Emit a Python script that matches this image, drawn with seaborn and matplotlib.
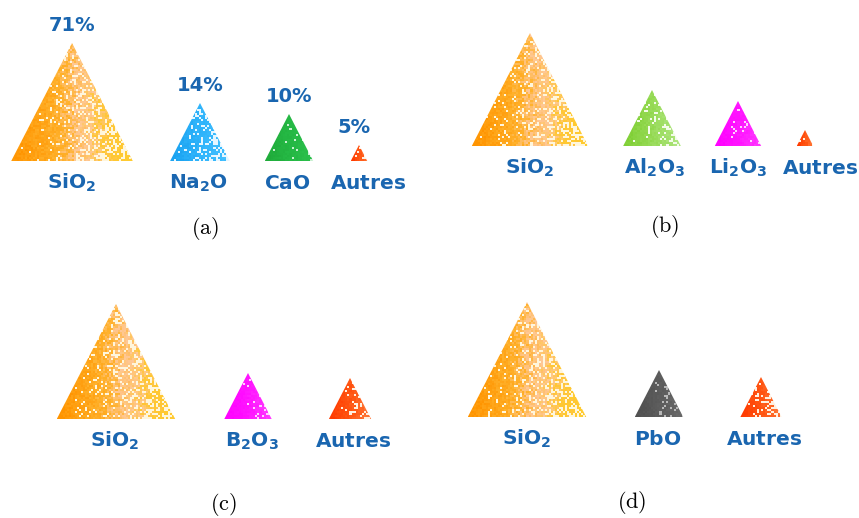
import numpy as np
import matplotlib
matplotlib.use("Agg")
import matplotlib.pyplot as plt
from matplotlib.patches import Polygon
from matplotlib.colors import to_rgb
import seaborn as sns

# ---------------- data ----------------
cat_a = [r"SiO_2", r"Na_2O", r"CaO", r"Autres"]
pct_a = [71, 14, 10, 5]
cat_b = [r"SiO_2", r"Al_2O_3", r"Li_2O_3", r"Autres"]
cat_c = [r"SiO_2", r"B_2O_3", r"Autres"]
cat_d = [r"SiO_2", r"PbO", r"Autres"]
captions = ["(a)", "(b)", "(c)", "(d)"]

# ---------------- layout (pixel units) ----------------
# triangle heights (relative size)
size_a = [118, 58, 47, 16]
size_b = [113, 56, 45, 16]
size_c = [115, 46, 41]
size_d = [115, 47, 40]
# triangle centres and label centres
tx_a = [72, 200, 289, 359];  lx_a = [72, 199, 287, 368]
tx_b = [530, 652, 738, 805]; lx_b = [530, 655, 738, 820]
tx_c = [116, 248, 350];      lx_c = [115, 252, 353]
tx_d = [527, 659, 761];      lx_d = [527, 658, 764]
base = {"a": 161, "b": 146, "c": 419, "d": 417}
cap_pos = {"a": (205, 228), "b": (665, 227), "c": (223, 505), "d": (632, 503)}

# colour ramps (left -> right) and speckle colours
ramps = {
    "SiO_2":   (["#ff9400", "#ffa214", "#ffb22c", "#ffc898", "#ffc634", "#ffcc30"], "#fff6dc", 0.5),
    "Na_2O":   (["#1aa2f0", "#2fb4fb", "#44c0ff"], "#e6f6ff", 0.55),
    "CaO":     (["#1faa3a", "#25b844", "#2cc04c"], "#c8f0d0", 0.18),
    "Autres":  (["#ff3a00", "#ff5512", "#ff7a3a"], "#fff0e0", 0.45),
    "Al_2O_3": (["#7fcf34", "#96da55", "#b0e681"], "#f2fbe8", 0.35),
    "Li_2O_3": (["#ff00ff", "#ff14ff", "#ff3cff"], "#ffd0ff", 0.18),
    "B_2O_3":  (["#ff00ff", "#ff14ff", "#ff3cff"], "#ffd0ff", 0.18),
    "PbO":     (["#505050", "#5c5c5c", "#6a6a6a"], "#b8b8b8", 0.22),
}

TEXT_BLUE = "#1a66b0"

sns.set_theme(style="white")
plt.rcParams["font.family"] = ["DejaVu Sans"]

fig = plt.figure(figsize=(8.59, 5.18), dpi=100)
ax = fig.add_axes([0, 0, 1, 1])
ax.set_xlim(0, 859)
ax.set_ylim(518, 0)
ax.axis("off")


def hash_noise(shape, seed):
    i, j = np.indices(shape)
    v = np.sin(i * 12.9898 + j * 78.233 + seed * 37.719) * 43758.5453
    return v - np.floor(v)


def textured_triangle(cx, b, h, key, seed):
    w = h * 1.03
    cols, speck, amount = ramps[key]
    cols = np.array([to_rgb(c) for c in cols])
    ny = max(int(h / 2.0), 4)
    nx = max(int(w / 2.0), 4)
    n1 = hash_noise((ny, nx), seed)
    n2 = hash_noise((ny, nx), seed + 11)
    t = np.linspace(0, 1, nx)[None, :].repeat(ny, axis=0)
    tt = np.clip(t + (n1 - 0.5) * 0.22, 0, 1) * (len(cols) - 1)
    k = np.floor(tt).astype(int)
    k = np.clip(k, 0, len(cols) - 2)
    f = (tt - k)[..., None]
    img = cols[k] * (1 - f) + cols[k + 1] * f
    p = amount * t ** 1.5
    mask = n2 < p
    img[mask] = to_rgb(speck)
    tri = Polygon([(cx - w / 2, b), (cx, b - h), (cx + w / 2, b)],
                  closed=True, facecolor="none", edgecolor="none")
    ax.add_patch(tri)
    im = ax.imshow(img, extent=[cx - w / 2, cx + w / 2, b, b - h],
                   interpolation="nearest", aspect="auto", zorder=2)
    im.set_clip_path(tri)
    return b - h


def label(x, y, key):
    ax.text(x, y, r"$\mathbf{" + key + "}$", ha="center", va="baseline",
            fontsize=14.5, color=TEXT_BLUE, math_fontfamily="dejavusans")


panels = [
    ("a", cat_a, size_a, tx_a, lx_a, pct_a),
    ("b", cat_b, size_b, tx_b, lx_b, None),
    ("c", cat_c, size_c, tx_c, lx_c, None),
    ("d", cat_d, size_d, tx_d, lx_d, None),
]

seed = 1
for name, cats, sizes, txs, lxs, pcts in panels:
    b = base[name]
    for i, (cat, h, tx, lx) in enumerate(zip(cats, sizes, txs, lxs)):
        apex = textured_triangle(tx, b, h, cat, seed)
        seed += 3
        label(lx, b + 28, cat)
        if pcts is not None:
            ax.text(tx - (5 if cat == "Autres" else 0), apex - 12, f"{pcts[i]}%",
                    ha="center", va="baseline", fontsize=14, fontweight="bold",
                    color=TEXT_BLUE)
    cx, cy = cap_pos[name]
    ax.text(cx, cy, r"$\mathrm{(" + name + ")}$", ha="center", va="center",
            fontsize=16, color="black", math_fontfamily="cm")

fig.savefig("out.png", dpi=100)
